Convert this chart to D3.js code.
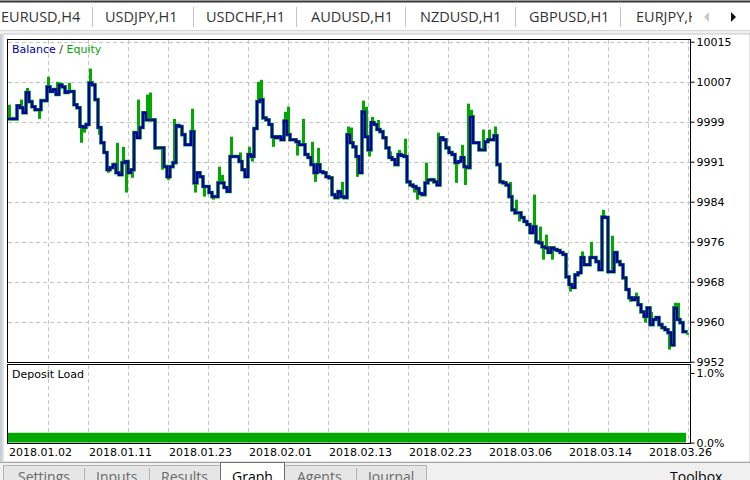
<!DOCTYPE html>
<html><head><meta charset="utf-8">
<script src="https://cdn.jsdelivr.net/npm/d3@7"></script>
<style>html,body{margin:0;padding:0;background:#fff;overflow:hidden}</style>
</head><body><svg id="c" width="750" height="480"></svg>
<script>
// ---------------- data ----------------
const balance = [
 9999.8, 9999.8, 9999.8, 10002.4, 10002.0, 10001.0, 10005.0, 10003.2, 10002.2, 10001.6,
 10001.6, 10003.4, 10003.4, 10006.1, 10005.2, 10005.6, 10004.6, 10006.5, 10006.1, 10005.0,
 10005.2, 10005.2, 10002.6, 10002.0, 9998.3, 9998.1, 9998.7, 10006.9, 10006.5, 10003.6,
 9998.1, 9995.1, 9993.2, 9989.8, 9990.2, 9990.8, 9989.2, 9988.8, 9991.2, 9991.4,
 9989.2, 9989.8, 9997.1, 9996.1, 9998.1, 10001.0, 9999.6, 9999.6, 9999.6, 9994.1,
 9994.1, 9994.1, 9990.4, 9988.4, 9990.4, 9991.2, 9998.5, 9998.3, 9996.7, 9994.7,
 9994.7, 9997.3, 9987.2, 9989.2, 9988.4, 9986.5, 9986.5, 9985.3, 9984.5, 9984.5,
 9987.2, 9987.2, 9986.3, 9985.5, 9992.4, 9992.4, 9992.4, 9991.4, 9989.8, 9988.4,
 9992.8, 9992.4, 9997.9, 10003.2, 10003.6, 10000.0, 9999.6, 9998.7, 9996.3, 9996.1,
 9996.3, 9995.7, 9999.4, 9996.7, 9995.7, 9995.7, 9995.3, 9994.7, 9994.7, 9992.8,
 9992.2, 9990.8, 9989.2, 9990.8, 9989.4, 9989.2, 9988.4, 9988.2, 9984.9, 9984.3,
 9985.5, 9984.5, 9984.3, 9996.7, 9995.1, 9994.3, 9992.4, 9989.2, 10001.2, 9996.3,
 9993.7, 9999.1, 9998.7, 9997.7, 9997.3, 9996.1, 9994.1, 9992.2, 9991.8, 9990.8,
 9992.8, 9992.6, 9992.4, 9987.4, 9986.8, 9986.5, 9986.1, 9985.1, 9984.9, 9987.2,
 9987.8, 9987.8, 9987.4, 9986.8, 9996.1, 9995.7, 9994.1, 9993.2, 9992.8, 9991.2,
 9991.4, 9992.2, 9990.4, 9990.2, 10000.2, 9995.1, 9995.1, 9993.7, 9993.7, 9995.3,
 9995.7, 9995.7, 9996.5, 9990.8, 9987.4, 9987.2, 9986.8, 9984.5, 9981.9, 9981.3,
 9981.3, 9980.4, 9979.6, 9979.0, 9977.4, 9978.6, 9975.6, 9975.4, 9974.6, 9974.4,
 9973.5, 9974.4, 9974.1, 9973.9, 9973.5, 9973.1, 9968.7, 9967.2, 9966.6, 9969.1,
 9969.5, 9972.5, 9971.1, 9971.1, 9972.5, 9972.5, 9971.7, 9970.1, 9980.5, 9980.4,
 9969.7, 9969.7, 9973.5, 9971.7, 9971.1, 9968.5, 9966.2, 9964.6, 9964.2, 9964.6,
 9963.2, 9961.8, 9960.9, 9962.6, 9959.3, 9960.3, 9960.7, 9959.3, 9958.7, 9958.3,
 9957.7, 9955.3, 9962.6, 9960.3, 9959.7, 9957.9, 9957.7
];
const equity = [
 10002.6, 9999.8, 9999.8, 10002.4, 10003.6, 10001.0, 10005.9, 10003.2, 10002.2, 10001.6,
 9999.8, 10003.4, 10003.4, 10008.1, 10005.2, 10005.6, 10007.1, 10007.0, 10006.1, 10005.0,
 10006.9, 10005.2, 10002.6, 10002.0, 9995.1, 9997.1, 9998.7, 10009.7, 10006.5, 10003.6,
 9996.7, 9995.1, 9993.2, 9989.2, 9990.2, 9990.8, 9995.1, 9988.8, 9994.3, 9985.3,
 9989.2, 9988.2, 9997.1, 10003.6, 9998.1, 10001.0, 10004.6, 10005.0, 9999.6, 9994.1,
 9994.1, 9989.8, 9990.4, 9987.8, 9990.4, 9999.8, 9998.5, 9998.3, 9996.7, 9994.7,
 9994.7, 10001.8, 9985.3, 9989.2, 9988.4, 9984.5, 9986.5, 9985.3, 9983.9, 9984.5,
 9990.4, 9988.8, 9986.3, 9985.5, 9996.3, 9992.4, 9992.4, 9993.2, 9989.8, 9988.4,
 9994.3, 9991.4, 9997.9, 10007.1, 10007.5, 10000.0, 9999.6, 9998.7, 9994.3, 9996.1,
 9996.3, 9995.7, 10001.2, 10002.2, 9995.7, 9995.7, 9992.6, 9994.7, 9999.8, 9992.8,
 9992.2, 9995.3, 9987.4, 9994.1, 9989.4, 9989.2, 9988.4, 9988.2, 9984.9, 9984.3,
 9985.5, 9987.4, 9984.3, 9998.3, 9998.1, 9994.3, 9988.4, 9989.2, 10003.4, 10002.2,
 9992.4, 10000.2, 9998.7, 9999.6, 9997.3, 9996.1, 9994.1, 9993.4, 9991.8, 9990.8,
 9993.7, 9992.6, 9995.9, 9987.4, 9986.8, 9985.3, 9983.9, 9985.1, 9984.9, 9991.2,
 9987.8, 9988.2, 9987.4, 9997.1, 9996.1, 9995.7, 9994.1, 9993.2, 9992.8, 9987.2,
 9991.4, 9994.7, 9986.8, 10002.8, 10001.6, 9995.1, 9995.1, 9993.7, 9997.7, 9995.3,
 9997.7, 9995.7, 9998.3, 9990.8, 9987.4, 9987.2, 9986.5, 9987.4, 9981.9, 9983.9,
 9979.6, 9980.4, 9979.6, 9979.0, 9977.4, 9984.9, 9975.6, 9978.6, 9972.1, 9977.0,
 9973.5, 9972.1, 9974.1, 9973.9, 9973.5, 9973.1, 9968.7, 9965.8, 9966.6, 9969.1,
 9969.5, 9973.7, 9971.1, 9971.1, 9975.6, 9972.5, 9971.7, 9970.1, 9981.9, 9980.4,
 9969.7, 9976.8, 9973.5, 9971.7, 9971.1, 9968.5, 9966.2, 9963.8, 9964.2, 9965.6,
 9963.2, 9961.8, 9959.7, 9962.6, 9961.8, 9960.3, 9960.7, 9958.9, 9958.7, 9958.3,
 9954.4, 9955.3, 9963.6, 9963.6, 9959.7, 9957.9, 9957.3
];
const yTickValues = [9952, 9959.875, 9967.75, 9975.625, 9983.5, 9991.375, 9999.25, 10007.125, 10015];
const dateLabels = ["2018.01.02","2018.01.11","2018.01.23","2018.02.01","2018.02.13","2018.02.23","2018.03.06","2018.03.14","2018.03.26"];
const depositLoad = [0.14, 0.14, 0.14, 0.14, 0.14, 0.14, 0.14, 0.14, 0.14];
const loadTicks = [0, 1.0];
const symbolTabs = ["EURUSD,H4","USDJPY,H1","USDCHF,H1","AUDUSD,H1","NZDUSD,H1","GBPUSD,H1","EURJPY,H1"];
const bottomTabs = ["Settings","Inputs","Results","Graph","Agents","Journal"];

// ---------------- layout ----------------
const svg = d3.select("#c");
const FONT = "'DejaVu Sans', Tahoma, sans-serif";
const UIFONT = "'Open Sans', 'Noto Sans', sans-serif";
const GREEN = "#00a800", BLUE = "#0000a6", GRID = "#c6c6c6";
const L = 7.5, R = 690.5, T = 39.5, B = 362.5, DT = 364.5, DB = 443.5;

const N = balance.length;
const x = d3.scaleLinear().domain([0, N - 1]).range([8, 686]);
const y = d3.scaleLinear().domain([9952, 10015]).range([361.7, 41.7]);
const gx = d3.scaleLinear().domain([0, 17]).range([8, 688]);
const yLoad = d3.scaleLinear().domain([0, 1]).range([442.6, 373]);
const xLoad = d3.scaleLinear().domain([0, depositLoad.length - 1]).range([7, 686]);

// backgrounds
svg.append("rect").attr("width", 750).attr("height", 480).attr("fill", "#f0f0f0");
svg.append("rect").attr("x", 0).attr("y", 3).attr("width", 750).attr("height", 28).attr("fill", "#ffffff");
svg.append("line").attr("x1", 0).attr("x2", 750).attr("y1", 1.5).attr("y2", 1.5).attr("stroke", "#3c3c3c").attr("stroke-width", 2);
svg.append("line").attr("x1", 0).attr("x2", 750).attr("y1", 30.5).attr("y2", 30.5).attr("stroke", "#d4d4d4");
svg.append("rect").attr("x", 3).attr("y", 34).attr("width", 747).attr("height", 428).attr("fill", "#ffffff").attr("stroke", "#c8c8c8");
svg.append("rect").attr("x", 0).attr("y", 34).attr("width", 2).attr("height", 428).attr("fill", "#c5cfdb");

// top symbol tabs
const tabX = [1, 105, 206, 311, 420, 529, 636];
const sepX = [92, 193, 296, 405, 515, 620];
const tabClip = svg.append("clipPath").attr("id", "tabclip").append("rect").attr("x", 0).attr("y", 0).attr("width", 692).attr("height", 31);
svg.append("g").attr("clip-path", "url(#tabclip)").selectAll("text").data(symbolTabs).join("text")
  .attr("x", (d, i) => tabX[i]).attr("y", 22).text(d => d)
  .attr("font-family", UIFONT).attr("font-size", 14.5).attr("fill", "#333");
svg.selectAll("line.sep").data(sepX).join("line").attr("class", "sep")
  .attr("x1", d => d + 0.5).attr("x2", d => d + 0.5).attr("y1", 7).attr("y2", 27).attr("stroke", "#c4c4c4");
svg.append("path").attr("d", "M709,12 L704,17 L709,22 Z").attr("fill", "#c8c8c8");
svg.append("path").attr("d", "M731,12 L736,17 L731,22 Z").attr("fill", "#111");

// grid (main + deposit)
const g = svg.append("g");
g.selectAll("line.hg").data(yTickValues).join("line").attr("class", "hg")
  .attr("x1", 8).attr("x2", 690).attr("y1", d => Math.round(y(d)) + 0.5).attr("y2", d => Math.round(y(d)) + 0.5)
  .attr("stroke", GRID).attr("stroke-dasharray", "4,3");
const vk = d3.range(1, 18);
g.selectAll("line.vg").data(vk).join("line").attr("class", "vg")
  .attr("x1", d => gx(d) + 0.5).attr("x2", d => gx(d) + 0.5).attr("y1", 40).attr("y2", 362)
  .attr("stroke", GRID).attr("stroke-dasharray", "4,3");
g.selectAll("line.vg2").data(vk).join("line").attr("class", "vg2")
  .attr("x1", d => gx(d) + 0.5).attr("x2", d => gx(d) + 0.5).attr("y1", 365).attr("y2", 443)
  .attr("stroke", GRID).attr("stroke-dasharray", "4,3");

// clip for plot
svg.append("clipPath").attr("id", "plotclip").append("rect").attr("x", 8).attr("y", 40).attr("width", 682).attr("height", 322);
const plot = svg.append("g").attr("clip-path", "url(#plotclip)");

// equity spikes
const eqIdx = d3.range(N).filter(i => equity[i] !== balance[i]);
plot.selectAll("line.eq").data(eqIdx).join("line").attr("class", "eq")
  .attr("x1", i => x(i + 0.5)).attr("x2", i => x(i + 0.5))
  .attr("y1", i => y(balance[i])).attr("y2", i => y(equity[i]))
  .attr("stroke", GREEN).attr("stroke-width", 3);
// equity trace under balance
plot.append("path").datum(d3.range(N))
  .attr("d", d3.line().x(i => x(i)).y(i => y(balance[i])).curve(d3.curveStepAfter))
  .attr("fill", "none").attr("stroke", GREEN).attr("stroke-width", 3.6);
// balance
plot.append("path").datum(d3.range(N))
  .attr("d", d3.line().x(i => x(i)).y(i => y(balance[i])).curve(d3.curveStepAfter))
  .attr("fill", "none").attr("stroke", BLUE).attr("stroke-width", 2.4);

// deposit load bar
svg.append("path").datum(depositLoad)
  .attr("d", d3.area().x((d, i) => xLoad(i)).y0(yLoad(0)).y1(d => yLoad(d)).curve(d3.curveStepAfter))
  .attr("fill", GREEN);

// frames
svg.append("rect").attr("x", L).attr("y", T).attr("width", R - L).attr("height", B - T).attr("fill", "none").attr("stroke", "#000");
svg.append("rect").attr("x", L).attr("y", DT).attr("width", R - L).attr("height", DB - DT).attr("fill", "none").attr("stroke", "#000");

// right axes
const ax = svg.append("g").attr("transform", "translate(690.5,0)")
  .call(d3.axisRight(y).tickValues(yTickValues).tickFormat(d3.format(".0f")).tickSize(4).tickPadding(2));
ax.select(".domain").remove();
ax.selectAll(".tick line").attr("stroke", "#000");
ax.selectAll("text").attr("font-family", FONT).attr("font-size", 11).attr("fill", "#000");
const ax2 = svg.append("g").attr("transform", "translate(690.5,0)")
  .call(d3.axisRight(yLoad).tickValues(loadTicks).tickFormat(d => d.toFixed(1) + "%").tickSize(4).tickPadding(2));
ax2.select(".domain").remove();
ax2.selectAll(".tick line").attr("stroke", "#000");
ax2.selectAll("text").attr("font-family", FONT).attr("font-size", 11).attr("fill", "#000");

// date labels
svg.selectAll("text.date").data(dateLabels).join("text").attr("class", "date")
  .attr("x", (d, i) => gx(2 * i) + 1).attr("y", 456).text(d => d)
  .attr("font-family", FONT).attr("font-size", 11).attr("fill", "#000");

// legend / titles
const lg = svg.append("text").attr("x", 12).attr("y", 53).attr("font-family", FONT).attr("font-size", 11);
lg.append("tspan").text("Balance").attr("fill", BLUE);
lg.append("tspan").text(" / ").attr("fill", "#333");
lg.append("tspan").text("Equity").attr("fill", GREEN);
svg.append("text").attr("x", 12).attr("y", 378).text("Deposit Load")
  .attr("font-family", FONT).attr("font-size", 11).attr("fill", "#000");

// bottom tabs
svg.append("line").attr("x1", 0).attr("x2", 750).attr("y1", 462.5).attr("y2", 462.5).attr("stroke", "#a8a8a8");
svg.append("rect").attr("x", 3.5).attr("y", 465.5).attr("width", 217).attr("height", 20).attr("fill", "#e6e6e6").attr("stroke", "#b4b4b4");
svg.append("rect").attr("x", 284.5).attr("y", 465.5).attr("width", 142).attr("height", 20).attr("fill", "#e6e6e6").attr("stroke", "#b4b4b4");
svg.append("rect").attr("x", 220.5).attr("y", 462.5).attr("width", 64).attr("height", 22).attr("fill", "#ffffff").attr("stroke", "#6e6e6e");
const btX = [18, 96, 161, 232, 297, 368];
svg.selectAll("line.bsep").data([84, 149, 356]).join("line").attr("class", "bsep")
  .attr("x1", d => d + 0.5).attr("x2", d => d + 0.5).attr("y1", 468).attr("y2", 480).attr("stroke", "#b4b4b4");
svg.selectAll("text.btab").data(bottomTabs).join("text").attr("class", "btab")
  .attr("x", (d, i) => btX[i]).attr("y", 482).text(d => d)
  .attr("font-family", UIFONT).attr("font-size", 14)
  .attr("fill", d => d === "Graph" ? "#000" : "#6a6a6a");
svg.append("text").attr("x", 670).attr("y", 482).text("Toolbox")
  .attr("font-family", UIFONT).attr("font-size", 14).attr("fill", "#000");
</script></body></html>
